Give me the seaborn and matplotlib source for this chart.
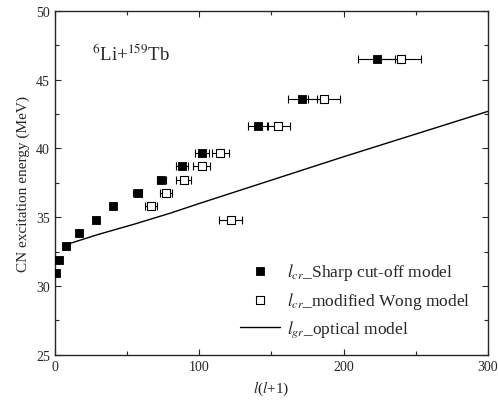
import numpy as np
import pandas as pd
import matplotlib
matplotlib.use("Agg")
import matplotlib.pyplot as plt
import seaborn as sns
from matplotlib.ticker import MultipleLocator

# Data
energy_sharp = [30.96, 31.93, 32.90, 33.87, 34.83, 35.80, 36.77, 37.74, 38.71, 39.68, 41.62, 43.60, 46.50]
ll_sharp = [1.1, 2.8, 7.6, 16.8, 28.3, 40.2, 57.5, 73.8, 88.0, 101.8, 140.7, 171.3, 222.8]
err_sharp = [0, 0, 0, 0, 0, 1.5, 3, 3, 4, 5, 7, 10, 13]

energy_wong = [34.83, 35.80, 36.77, 37.74, 38.71, 39.68, 41.62, 43.60, 46.50]
ll_wong = [121.8, 66.7, 77.0, 89.2, 101.8, 114.7, 154.7, 186.2, 239.5]
err_wong = [8, 4, 4, 5, 6, 6, 8, 11, 14]

ll_optical = [9, 30, 55, 80, 100, 150, 200, 250, 300]
energy_optical = [33.05, 33.75, 34.50, 35.30, 36.00, 37.70, 39.40, 41.05, 42.70]

sns.set_style("ticks")
plt.rcParams['font.family'] = ['Liberation Serif', 'DejaVu Serif']
plt.rcParams['mathtext.fontset'] = 'stix'

fig = plt.figure(figsize=(4.98, 4.10), dpi=100)
ax = fig.add_axes([0.110, 0.132, 0.870, 0.839])

df_s = pd.DataFrame({"ll": ll_sharp, "E": energy_sharp})
df_w = pd.DataFrame({"ll": ll_wong, "E": energy_wong})
df_o = pd.DataFrame({"ll": ll_optical, "E": energy_optical})

ax.errorbar(ll_sharp, energy_sharp, xerr=err_sharp, fmt='none', ecolor='black',
            elinewidth=0.8, capsize=3, capthick=0.8, zorder=2)
ax.errorbar(ll_wong, energy_wong, xerr=err_wong, fmt='none', ecolor='black',
            elinewidth=0.8, capsize=3, capthick=0.8, zorder=2)

sns.scatterplot(data=df_s, x="ll", y="E", marker='s', s=38, color='black',
                edgecolor='black', linewidth=0.6, ax=ax, zorder=3,
                label=r"$l_{cr}$_Sharp cut-off model")
sns.scatterplot(data=df_w, x="ll", y="E", marker='s', s=32, color='white',
                edgecolor='black', linewidth=0.8, ax=ax, zorder=3,
                label=r"$l_{cr}$_modified Wong model")
sns.lineplot(data=df_o, x="ll", y="E", color='black', linewidth=1.0, ax=ax,
             label=r"$l_{gr}$_optical model")

ax.set_xlim(0, 300)
ax.set_ylim(25, 50)
ax.xaxis.set_major_locator(MultipleLocator(100))
ax.xaxis.set_minor_locator(MultipleLocator(50))
ax.yaxis.set_major_locator(MultipleLocator(5))
ax.yaxis.set_minor_locator(MultipleLocator(2.5))
ax.tick_params(which='both', direction='in', top=True, right=True, labelsize=10)
ax.tick_params(which='major', length=4, width=0.8)
ax.tick_params(which='minor', length=3, width=0.8)
for sp in ax.spines.values():
    sp.set_linewidth(1.0)

ax.set_xlabel(r"$l$($l$+1)", fontsize=11)
ax.set_ylabel("CN excitation energy (MeV)", fontsize=11)

ax.text(26, 46.9, r"$^{6}$Li+$^{159}$Tb", fontsize=13.5, va='center', ha='left')

leg = ax.legend(loc='lower right', frameon=False, fontsize=12.5,
                bbox_to_anchor=(0.995, 0.0), handlelength=2.3,
                handletextpad=0.4, labelspacing=0.45)

fig.savefig("out.png", dpi=100)
